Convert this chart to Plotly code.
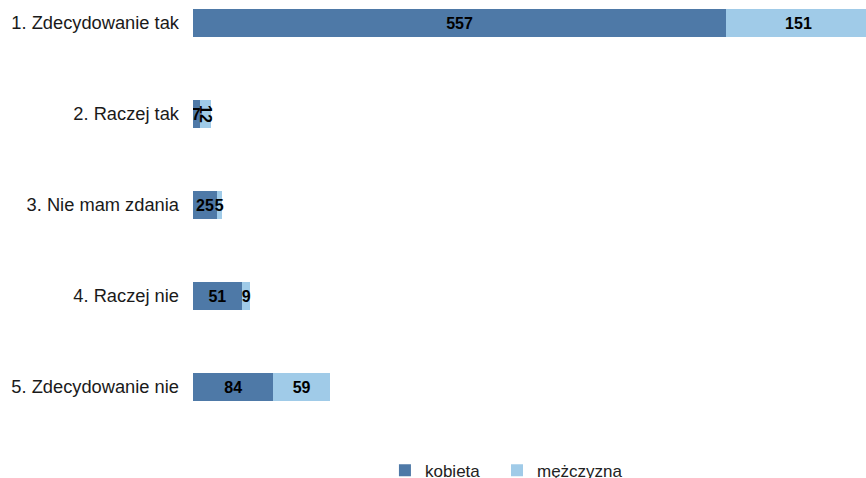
import plotly.graph_objects as go

categories = ["1. Zdecydowanie tak", "2. Raczej tak", "3. Nie mam zdania", "4. Raczej nie", "5. Zdecydowanie nie"]
kobieta = [557, 7, 25, 51, 84]
mezczyzna = [151, 12, 5, 9, 59]
series_names = ["kobieta", "mężczyzna"]
colors = ["#4E79A7", "#A0CBE8"]
legend_ids = ["legend", "legend2"]

FONT = "Liberation Sans, Arial, sans-serif"

fig = go.Figure()
for name, vals, col, lg in zip(series_names, [kobieta, mezczyzna], colors, legend_ids):
    fig.add_trace(go.Bar(
        y=categories, x=vals, name=name, orientation="h", legend=lg,
        marker=dict(color=col, line=dict(width=0)),
        text=[str(v) for v in vals], textposition="inside",
        insidetextanchor="middle", constraintext="none",
        textfont=dict(family=FONT, size=16, color="#000000", weight="bold"),
    ))

legend_style = dict(orientation="h", xanchor="left", yref="container", y=0.053, yanchor="top",
                    font=dict(size=17, color="#222222"), bgcolor="rgba(0,0,0,0)")

top_off = 23 / 91
plot_h = 428
fig.update_layout(
    barmode="stack",
    width=866, height=478,
    margin=dict(l=193, r=0, t=0, b=50),
    plot_bgcolor="white", paper_bgcolor="white",
    bargap=0.69,
    font=dict(family=FONT, color="#222222"),
    showlegend=True,
    legend=dict(x=0.2852, **legend_style),
    legend2=dict(x=0.4517, **legend_style),
    uniformtext=dict(mode=False),
)
fig.update_xaxes(range=[0, 703], showgrid=False, zeroline=False, showticklabels=False, showline=False)
fig.update_yaxes(range=[(plot_h - 23) / 91, -top_off], showgrid=False, zeroline=False, showline=False,
                 ticks="", tickfont=dict(size=18.3, color="#1a1a1a"), ticklabelstandoff=13)

fig.write_html("out.html", config={"displayModeBar": False},
               post_script="document.body.style.margin='0';document.body.style.padding='0';")
